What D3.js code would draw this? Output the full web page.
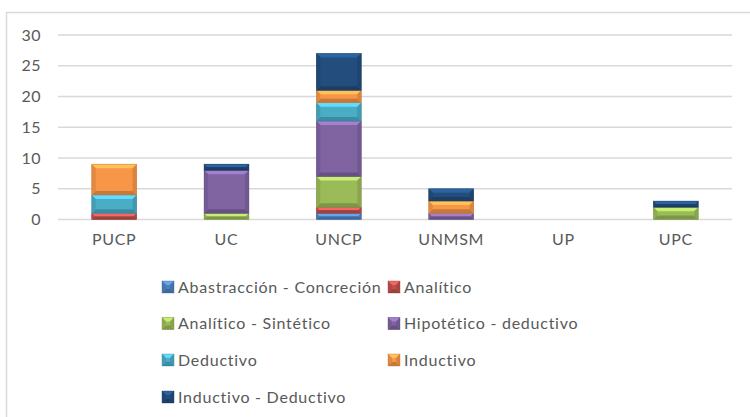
<!DOCTYPE html>
<html><head><meta charset="utf-8">
<script src="https://cdn.jsdelivr.net/npm/d3@7"></script>
<style>body{margin:0;background:#fff}svg{display:block}</style>
</head><body><svg id="c" width="750" height="417"></svg>
<script>
const categories = ["PUCP","UC","UNCP","UNMSM","UP","UPC"];
const seriesNames = ["Abastracción - Concreción","Analítico","Analítico - Sintético","Hipotético - deductivo","Deductivo","Inductivo","Inductivo - Deductivo"];
const abstraccion = [0,0,1,0,0,0];
const analitico   = [1,0,1,0,0,0];
const anaSintetico= [0,1,5,0,0,2];
const hipotetico  = [0,7,9,1,0,0];
const deductivo   = [3,0,3,0,0,0];
const inductivo   = [5,0,2,2,0,0];
const indDeductivo= [0,1,6,2,0,1];
const yTicks = [0,5,10,15,20,25,30];
const colors = ["#4F81BD","#C0504D","#9BBB59","#8064A2","#4BACC6","#F79646","#234D7D"];

const seriesValues = [abstraccion,analitico,anaSintetico,hipotetico,deductivo,inductivo,indDeductivo];
const rows = categories.map((c,i)=>{const r={cat:c};seriesNames.forEach((s,j)=>r[s]=seriesValues[j][i]);return r;});
const stack = d3.stack().keys(seriesNames)(rows);

const svg = d3.select("#c");
const font = "Lato, 'Open Sans', sans-serif";
svg.append("rect").attr("x",6.5).attr("y",12.5).attr("width",760).attr("height",420)
  .attr("fill","none").attr("stroke","#D9D9D9").attr("stroke-width",1.5);

const x = d3.scaleBand().domain(categories).range([58,732]).paddingInner(0.6).paddingOuter(0.3);
const y = d3.scaleLinear().domain([0,30]).range([219.5,35]);

svg.append("g").selectAll("line").data(yTicks).join("line")
  .attr("x1",58).attr("x2",732).attr("y1",d=>y(d)).attr("y2",d=>y(d))
  .attr("stroke","#D9D9D9").attr("stroke-width",1.5);

const yAxis = d3.axisLeft(y).tickValues(yTicks).tickSize(0).tickPadding(0);
const ya = svg.append("g").attr("transform","translate(41,0)").call(yAxis);
ya.select(".domain").remove();
ya.selectAll("text").attr("font-family",font).attr("font-size",16).attr("fill","#595959").attr("letter-spacing",0.5);

const xAxis = d3.axisBottom(x).tickSize(0).tickPadding(0);
const xa = svg.append("g").attr("transform","translate(0,234)").call(xAxis);
xa.select(".domain").remove();
xa.selectAll("text").attr("font-family",font).attr("font-size",16).attr("fill","#595959").attr("letter-spacing",0.7);

function bevel(g, x0, x1, y0, y1, col){
  const h = y1-y0; if(h<=0) return;
  const b = Math.min(4, h/2, (x1-x0)/2);
  const c = d3.color(col);
  g.append("rect").attr("x",x0).attr("y",y0).attr("width",x1-x0).attr("height",h).attr("fill",col);
  const pts = a=>a.map(p=>p.join(",")).join(" ");
  g.append("polygon").attr("points",pts([[x0,y0],[x1,y0],[x1-b,y0+b],[x0+b,y0+b]])).attr("fill",c.brighter(0.7));
  g.append("polygon").attr("points",pts([[x0,y1],[x1,y1],[x1-b,y1-b],[x0+b,y1-b]])).attr("fill",c.darker(0.6));
  g.append("polygon").attr("points",pts([[x0,y0],[x0+b,y0+b],[x0+b,y1-b],[x0,y1]])).attr("fill",c.darker(0.25));
  g.append("polygon").attr("points",pts([[x1,y0],[x1-b,y0+b],[x1-b,y1-b],[x1,y1]])).attr("fill",c.darker(0.35));
  g.append("rect").attr("x",x0).attr("y",y0).attr("width",x1-x0).attr("height",h).attr("fill","none")
    .attr("stroke",c.darker(0.8)).attr("stroke-width",0.6).attr("stroke-opacity",0.6);
}
const bars = svg.append("g");
stack.forEach((s,si)=>{
  s.forEach(d=>{
    const x0 = x(d.data.cat), x1 = x0 + x.bandwidth();
    bevel(bars, x0, x1, y(d[1]), y(d[0]), colors[si]);
  });
});

const legPos = [[162,287],[388,287],[162,323.5],[388,323.5],[162,360],[388,360],[162,397]];
const leg = svg.append("g");
seriesNames.forEach((s,i)=>{
  const [lx,ly] = legPos[i];
  const g = leg.append("g");
  bevel(g, lx, lx+12, ly-6, ly+6, colors[i]);
  g.append("text").attr("x",lx+16).attr("y",ly).attr("dy","0.35em").text(s)
    .attr("font-family",font).attr("font-size",16).attr("fill","#595959").attr("letter-spacing",0.75);
});
</script></body></html>
